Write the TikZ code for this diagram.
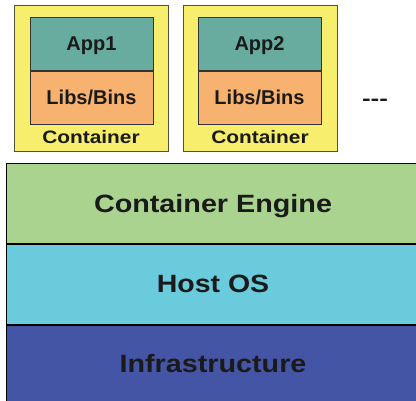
\documentclass[tikz,border=0pt]{standalone}
\usepackage{fontspec}
\setmainfont{Liberation Sans}
\usetikzlibrary{positioning}

\definecolor{ctyellow}{HTML}{F6EE6C}
\definecolor{ctedge}{HTML}{55503A}
\definecolor{appteal}{HTML}{67AC9E}
\definecolor{liborange}{HTML}{F8B26F}
\definecolor{enggreen}{HTML}{A9D38E}
\definecolor{hostcyan}{HTML}{69CBDC}
\definecolor{infblue}{HTML}{4555A5}
\definecolor{inkdark}{HTML}{1A1A1A}

\begin{document}
\begin{tikzpicture}[x=1pt, y=-1pt, line width=1pt, text=inkdark,
  ctbox/.style={draw=ctedge, fill=ctyellow, minimum width=154pt, minimum height=146pt, inner sep=0pt},
  appbox/.style={draw=black!80, fill=appteal, minimum width=123pt, minimum height=53pt, inner sep=0pt,
    text depth=-1pt, font=\fontsize{20}{22}\selectfont\bfseries},
  libbox/.style={appbox, fill=liborange},
  ctlabel/.style={font=\fontsize{18}{20}\selectfont\bfseries, xscale=1.16},
  layer/.style={draw=black, minimum width=414pt, minimum height=80pt, inner sep=0pt,
    font=\fontsize{25}{28}\selectfont\bfseries}]

\useasboundingbox (0,0) rectangle (416,400);

% draw containers
\node[ctbox] (ct1) at (91,78) {};
\node[ctbox] (ct2) at (260,78) {};

% draw apps and libs
\node[appbox] (app1) at (91.5,43.5) {App1};
\node[libbox, below=0pt of app1] (lib1) {Libs/Bins};
\node[appbox] (app2) at (259.5,43.5) {App2};
\node[libbox, below=0pt of app2] (lib2) {Libs/Bins};

% draw container labels
\node[ctlabel] (ctl1) at (91,137) {Container};
\node[ctlabel] (ctl2) at (260,137) {Container};

% draw dots
\node[font=\fontsize{20}{22}\selectfont\bfseries, xscale=1.3] (more) at (375,102) {-{}-{}-};

% draw layers
\node[layer, fill=enggreen, text depth=-2pt] (engine) at (213,203) {\scalebox{1.15}[1]{Container Engine}};
\node[layer, fill=hostcyan, below=0pt of engine] (host) {\scalebox{1.14}[1]{Host OS}};
\node[layer, fill=infblue, below=0pt of host, text depth=4pt] (infra) {\scalebox{1.15}[1]{Infrastructure}};

\end{tikzpicture}
\end{document}
